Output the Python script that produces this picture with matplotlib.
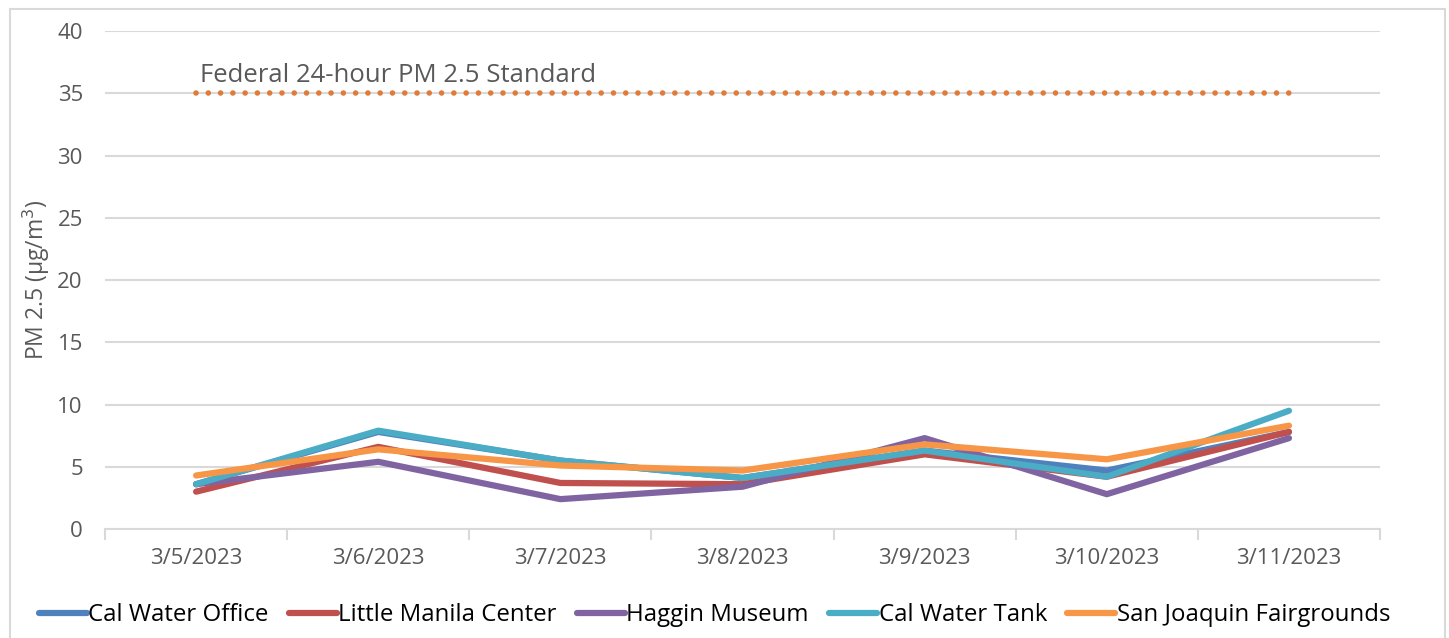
import matplotlib.pyplot as plt
from matplotlib.patches import Rectangle
import numpy as np

dates = ["3/5/2023", "3/6/2023", "3/7/2023", "3/8/2023", "3/9/2023", "3/10/2023", "3/11/2023"]
cal_water_office = [3.6, 7.8, 5.5, 4.1, 6.3, 4.7, 7.8]
little_manila = [3.0, 6.6, 3.7, 3.6, 6.0, 4.2, 7.8]
haggin_museum = [3.6, 5.4, 2.4, 3.4, 7.3, 2.8, 7.3]
cal_water_tank = [3.6, 7.9, 5.5, 4.1, 6.3, 4.2, 9.5]
san_joaquin = [4.3, 6.4, 5.1, 4.7, 6.8, 5.6, 8.3]
standard = [35] * 7

series = [
    ("Cal Water Office", cal_water_office, "#4F81BD"),
    ("Little Manila Center", little_manila, "#C0504D"),
    ("Haggin Museum", haggin_museum, "#8064A2"),
    ("Cal Water Tank", cal_water_tank, "#4BACC6"),
    ("San Joaquin Fairgrounds", san_joaquin, "#F79646"),
]

plt.rcParams['font.family'] = ['Open Sans', 'DejaVu Sans']

fig = plt.figure(figsize=(14.49, 6.38), dpi=100)
ax = fig.add_axes([0.0725, 0.1708, 0.8799, 0.7806])

# outer frame like the chart area border
fig.patches.append(Rectangle((0.0069, -0.02), 0.9903, 1.0059, transform=fig.transFigure,
                             fill=False, edgecolor="#D9D9D9", linewidth=1.5))

x = np.arange(len(dates))
for name, vals, col in series:
    ax.plot(x, vals, color=col, linewidth=4.5, label=name, solid_capstyle="round",
            solid_joinstyle="round")

ax.plot(x, standard, color="#E07B39", linewidth=4.0, linestyle=(0, (0.01, 2.2)),
        dash_capstyle="round")
ax.text(0.02, 35.4, "Federal 24-hour PM 2.5 Standard", color="#595959", fontsize=18.5,
        va="bottom", ha="left")

ax.set_xlim(-0.5, len(dates) - 0.5)
ax.set_ylim(0, 40)
ax.set_yticks(range(0, 41, 5))
ax.set_xticks(x)
ax.set_xticklabels(dates)
ax.set_xticks(np.arange(-0.5, len(dates), 1), minor=True)
ax.tick_params(axis="x", which="major", length=0, pad=14, labelsize=16, labelcolor="#595959")
ax.tick_params(axis="x", which="minor", length=8, color="#D9D9D9", width=1.5)
ax.tick_params(axis="y", length=0, pad=16, labelsize=16, labelcolor="#595959")
ax.grid(axis="y", color="#D9D9D9", linewidth=1.5)
ax.set_axisbelow(True)
for s in ["top", "right", "left"]:
    ax.spines[s].set_visible(False)
ax.spines["bottom"].set_color("#D9D9D9")
ax.spines["bottom"].set_linewidth(1.5)

ax.set_ylabel("PM 2.5 (µg/m$^3$)", fontsize=16.5, color="#595959")
ax.yaxis.set_label_coords(-0.042, 0.5)

ax.legend(loc="upper center", bbox_to_anchor=(0.478, -0.105), ncol=5, frameon=False,
          fontsize=17.3, handlelength=2.0, handletextpad=0.05, columnspacing=0.85)

fig.savefig("out.png", dpi=100)
